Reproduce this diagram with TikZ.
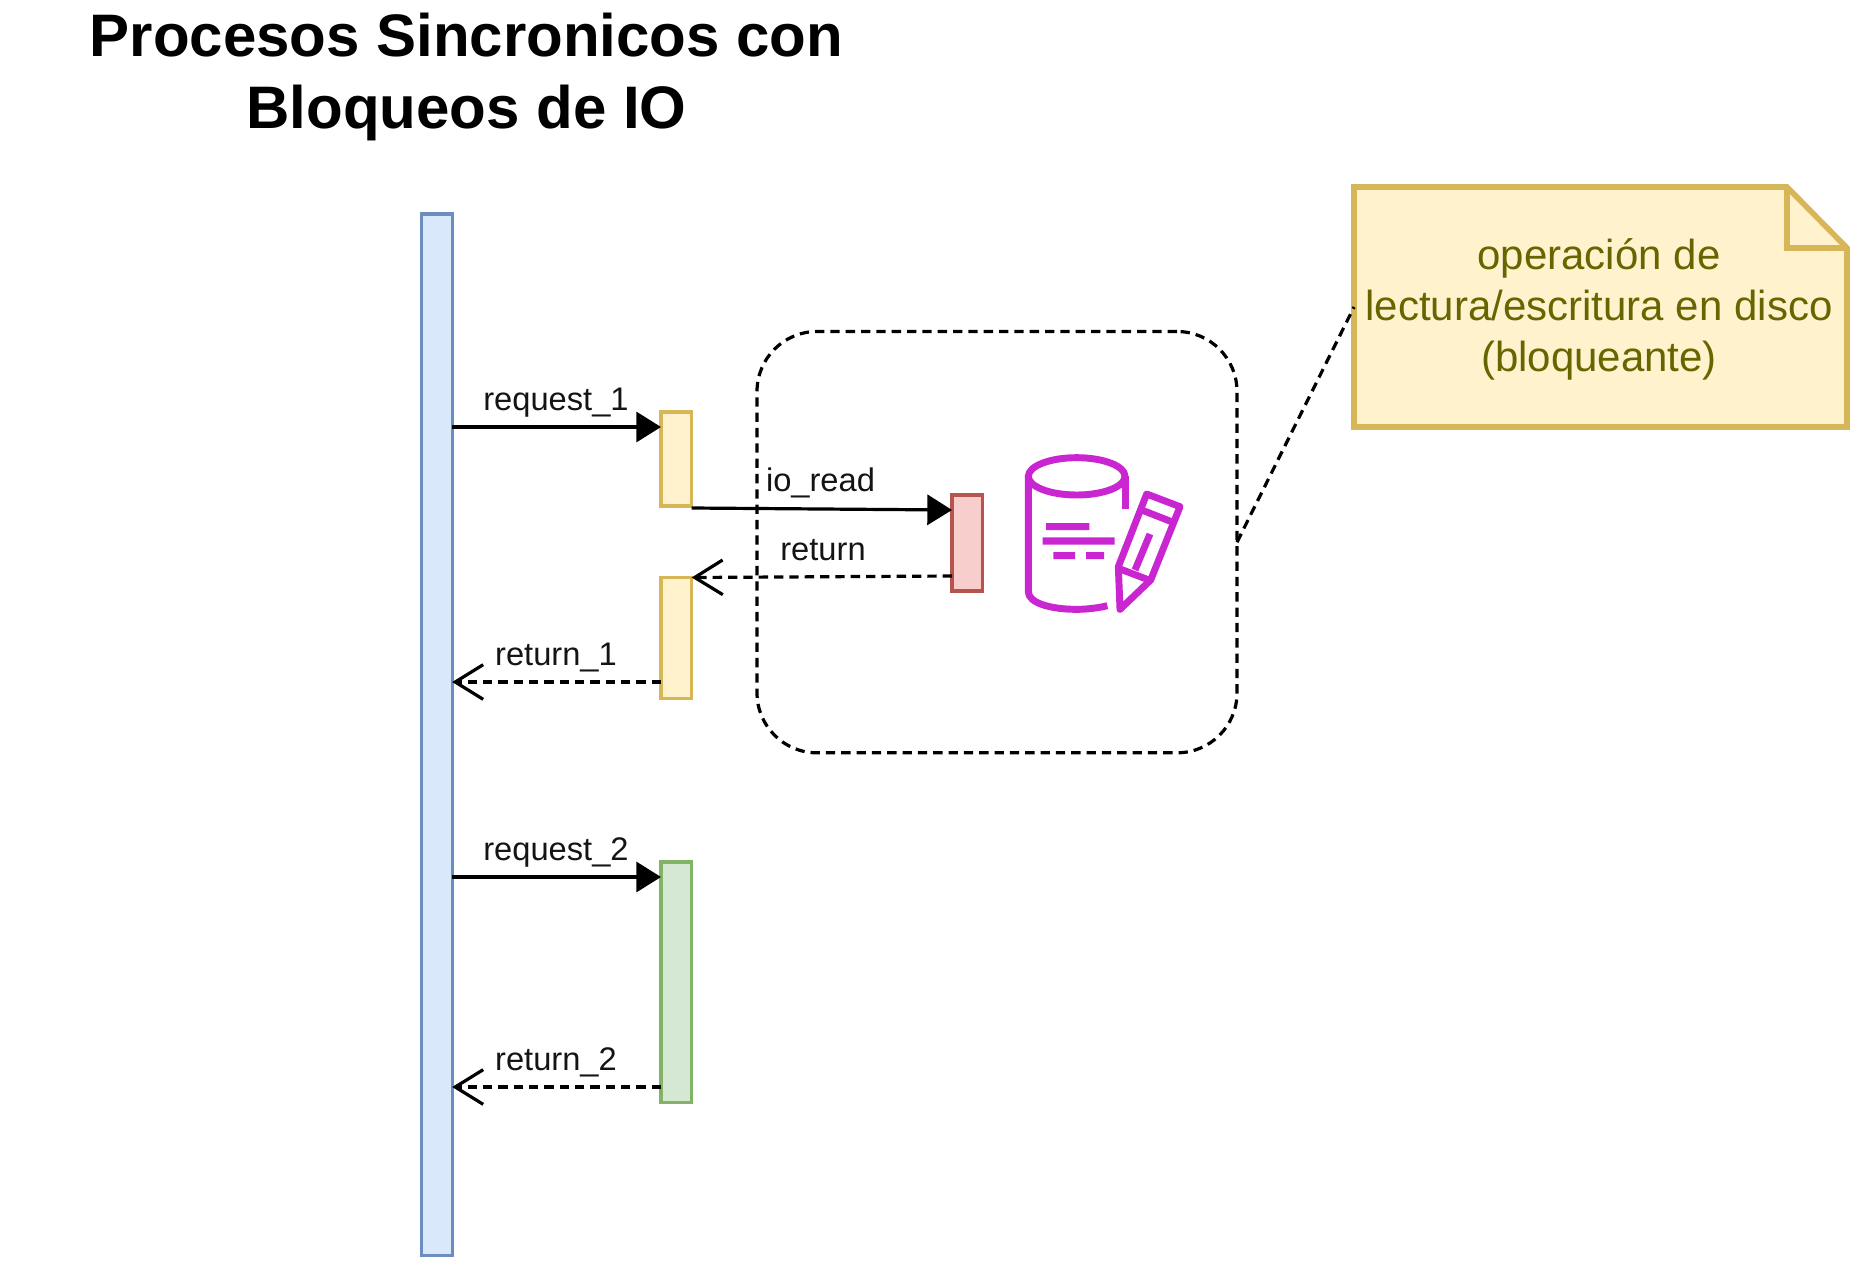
\documentclass[tikz,border=0pt]{standalone}
\usepackage{fontspec}
\setmainfont{Liberation Sans}
\usetikzlibrary{arrows.meta,calc}
\definecolor{bluef}{HTML}{DAE8FC}\definecolor{blued}{HTML}{6C8EBF}
\definecolor{yelf}{HTML}{FFF2CC}\definecolor{yeld}{HTML}{D6B656}
\definecolor{redf}{HTML}{F8CECC}\definecolor{redd}{HTML}{B85450}
\definecolor{grnf}{HTML}{D5E8D4}\definecolor{grnd}{HTML}{82B366}
\definecolor{notetxt}{HTML}{666600}\definecolor{iconc}{HTML}{C925D1}
\tikzset{
 x=0.75pt,y=-0.75pt,
 bar/.style={draw,line width=2.4pt,inner sep=0,outer sep=0,anchor=north west},
 lbl/.style={inner sep=0,outer sep=0,anchor=base,font=\fontsize{24.5}{29}\selectfont,text=black!92},
 syncmsg/.style={line width=2.4pt,-{Triangle[length=18.5pt,width=22.5pt,fill=black]}},
 retmsg/.style={line width=2.4pt,dash pattern=on 7pt off 4.5pt,-{Straight Barb[length=21pt,width=26pt,line width=2.4pt]}},
 iconline/.style={draw=iconc,line width=5.2pt,line join=round},
 titletxt/.style={inner sep=0,anchor=base,font=\fontsize{45}{54}\bfseries\selectfont},
 notetext/.style={inner sep=0,anchor=base,font=\fontsize{31.5}{38}\selectfont,text=notetxt},
}
\begin{document}
\begin{tikzpicture}
\useasboundingbox (0,0) rectangle (1851,1260);
% title
\node[titletxt] (title1) at (466.5,56) {Procesos Sincronicos con};
\node[titletxt] (title2) at (466.5,128) {Bloqueos de IO};
% group
\node[draw,line width=2.4pt,dash pattern=on 7pt off 4.5pt,rounded corners=45pt,inner sep=0,outer sep=0,anchor=north west,minimum width=360pt,minimum height=316pt] (grp) at (757,331.5) {};
% bars
\node[bar,draw=blued,fill=bluef,minimum width=23pt,minimum height=781pt] (main) at (421.5,214) {};
\node[bar,draw=yeld,fill=yelf,minimum width=23pt,minimum height=70.5pt] (y1) at (661,412) {};
\node[bar,draw=yeld,fill=yelf,minimum width=23pt,minimum height=90.75pt] (y2) at (661,577.5) {};
\node[bar,draw=redd,fill=redf,minimum width=23pt,minimum height=72pt] (r1) at (952,495) {};
\node[bar,draw=grnd,fill=grnf,minimum width=23pt,minimum height=180.5pt] (g1) at (661,862) {};
% connectors
\draw[syncmsg] (main.east |- 0,427) -- (y1.west |- 0,427);
\draw[syncmsg] (y1.east |- 0,508) -- (r1.west |- 0,510);
\draw[retmsg] (r1.west |- 0,576) -- (y2.north east);
\draw[retmsg] (y2.west |- 0,682) -- (main.east |- 0,682);
\draw[syncmsg] (main.east |- 0,877) -- (g1.west |- 0,877);
\draw[retmsg] (g1.west |- 0,1087) -- (main.east |- 0,1087);
% labels
\node[lbl] (l1) at (556,410) {request\_1};
\node[lbl] (l2) at (820.5,491) {io\_read};
\node[lbl] (l3) at (823,560) {return};
\node[lbl] (l4) at (556,665) {return\_1};
\node[lbl] (l5) at (556,860.5) {request\_2};
\node[lbl] (l6) at (556,1070.5) {return\_2};
% note
\node[inner sep=0,outer sep=0,anchor=north west,minimum width=369.75pt,minimum height=180pt] (note) at (1354,187) {};
\draw[draw=yeld,fill=yelf,line width=4.2pt,miter limit=10] (1354,187) -- (1787,187) -- (1847,248) -- (1847,427) -- (1354,427) -- cycle;
\draw[draw=yeld,line width=4.2pt] (1787,187) -- (1787,248) -- (1847,248);
\node[notetext] (n1) at (1599,269) {operación de};
\node[notetext] (n2) at (1599,320) {lectura/escritura en disco};
\node[notetext] (n3) at (1599,371) {(bloqueante)};
\draw[line width=2.4pt,dash pattern=on 7pt off 4.5pt] (grp.east) -- (note.west);
% icon
\begin{scope}[shift={(980,420)},x=0.25pt,y=-0.25pt]
\draw[iconline] (290,169) ellipse [x radius=145,y radius=56];
\draw[iconline] (436,169) -- (436,266);
\draw[iconline] (145,169) -- (145,515) .. controls (145,550) and (215,568) .. (290,568) .. controls (320,568) and (355,564) .. (382,557);
\fill[iconc] (198,309) rectangle (328,330) (188,352) rectangle (404,374) (220,396) rectangle (285,417) (318,396) rectangle (372,417);
\draw[iconline] (500,222) -- (600,260) -- (512,480) -- (420,568) -- (415,440) -- cycle;
\draw[iconline] (490,272) -- (577,306);
\draw[iconline] (420,447) -- (515,483);
\draw[iconline] (510,342) -- (465,450);
\end{scope}
\end{tikzpicture}
\end{document}
